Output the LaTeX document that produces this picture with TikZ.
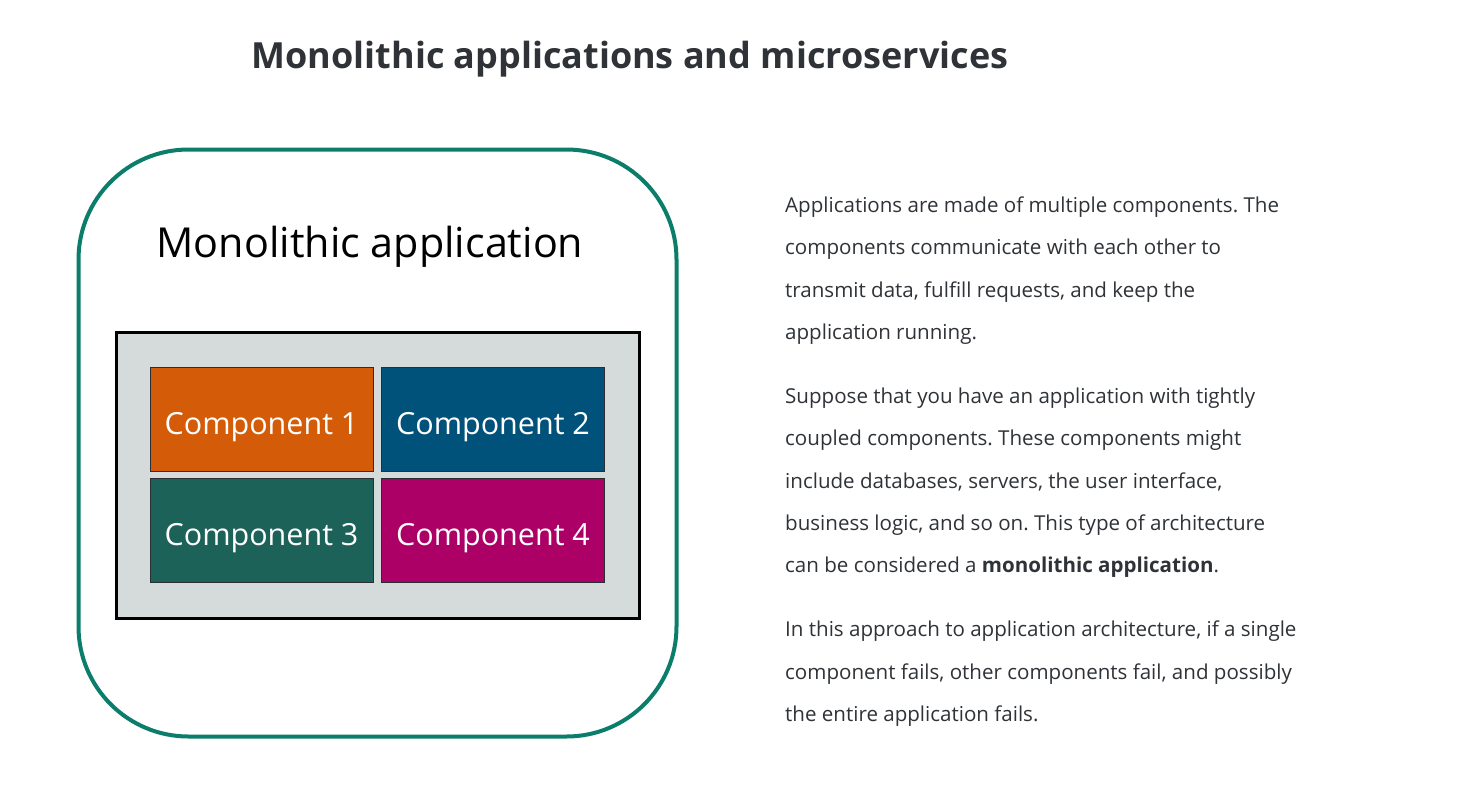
\documentclass[tikz,border=0pt]{standalone}
\usepackage{fontspec}
\setmainfont{Open Sans}
\frenchspacing
\definecolor{teal}{HTML}{0B7D6A}
\definecolor{grayfill}{HTML}{D5DBDB}
\definecolor{cone}{HTML}{D45B07}
\definecolor{ctwo}{HTML}{00527A}
\definecolor{cthree}{HTML}{1D6259}
\definecolor{cfour}{HTML}{AD0067}
\definecolor{txt}{HTML}{2F3337}
\definecolor{cborder}{HTML}{2A2E33}
\tikzset{
  comp/.style={draw=cborder, line width=1pt, minimum width=223pt, minimum height=104pt, inner sep=0pt, text height=30pt, text depth=0pt, text=white, font=\fontsize{30.5}{34}\selectfont},
  body/.style={anchor=base west, inner sep=0pt, text=txt, font=\fontsize{20.55}{24}\selectfont},
}
\begin{document}
\begin{tikzpicture}[x=1pt,y=-1pt]
\useasboundingbox (0,0) rectangle (1476,793);
\fill[white] (0,0) rectangle (1476,793);
\node[anchor=base, inner sep=0pt, text=txt, font=\fontsize{36}{40}\selectfont\bfseries] (title) at (630,68) {Monolithic applications and microservices};
\node[draw=teal, line width=4pt, rounded corners=110pt, minimum width=598pt, minimum height=587pt, inner sep=0pt] (mono) at (377.5,443) {};
\node[anchor=base, inner sep=0pt, font=\fontsize{41.3}{46}\selectfont] (monotitle) at (370,257) {Monolithic application};
\node[draw=black, fill=grayfill, line width=3pt, minimum width=523pt, minimum height=286pt, inner sep=0pt] (gbox) at (378,475.5) {};
\node[comp, fill=cone] (c1) at (261.5,419) {Component 1};
\node[comp, fill=ctwo] (c2) at (493,419) {Component 2};
\node[comp, fill=cthree] (c3) at (261.5,530.5) {Component 3};
\node[comp, fill=cfour] (c4) at (493,530.5) {Component 4};
\node[body] (l1) at (785,212) {Applications are made of multiple components. The};
\node[body] (l2) at (785,254) {components communicate with each other to};
\node[body] (l3) at (785,297) {transmit data, fulfill requests, and keep the};
\node[body] (l4) at (785,339) {application running.};
\node[body] (l5) at (785,403) {Suppose that you have an application with tightly};
\node[body] (l6) at (785,445) {coupled components. These components might};
\node[body] (l7) at (785,488) {include databases, servers, the user interface,};
\node[body] (l8) at (785,530) {business logic, and so on. This type of architecture};
\node[body] (l9) at (785,572) {can be considered a \textbf{monolithic application}.};
\node[body] (l10) at (785,636) {In this approach to application architecture, if a single};
\node[body] (l11) at (785,679) {component fails, other components fail, and possibly};
\node[body] (l12) at (785,721) {the entire application fails.};
\end{tikzpicture}
\end{document}
